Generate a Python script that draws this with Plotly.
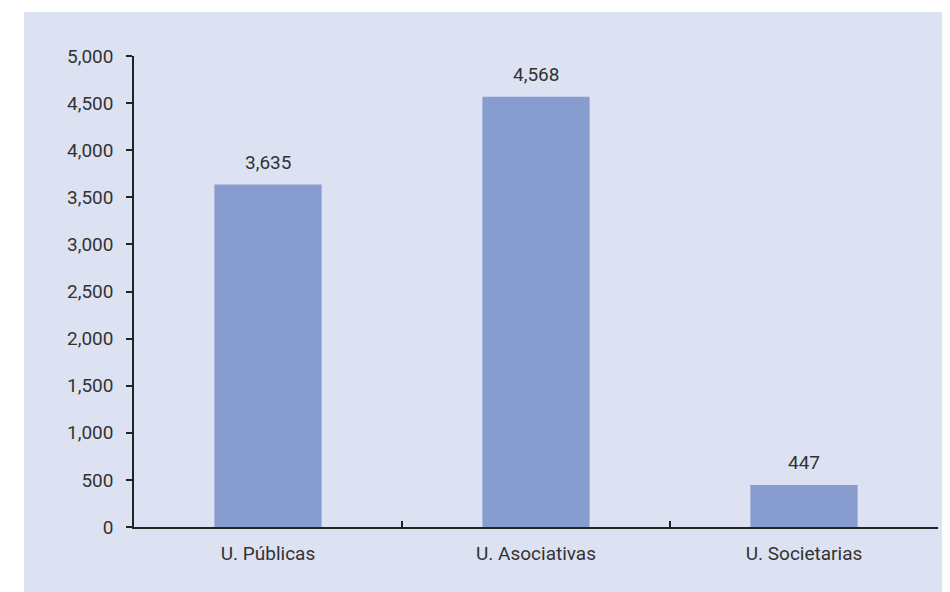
import plotly.graph_objects as go

categories = ["U. Públicas", "U. Asociativas", "U. Societarias"]
values = [3635, 4568, 447]
value_labels = ["3,635", "4,568", "447"]

BAR = "#879dcf"
BG = "#dde2f2"
FONT = "Roboto"
TXT = "#333333"
NUM_SIZE = 19
CAT_SIZE = 19

fig = go.Figure()
fig.add_trace(go.Bar(
    x=categories, y=values, marker=dict(color=BAR, line=dict(width=0)),
    width=0.4, hoverinfo="skip",
))

for c, v, lab in zip(categories, values, value_labels):
    fig.add_annotation(x=c, y=v, text=lab, showarrow=False, yanchor="bottom",
                       yshift=9, font=dict(family=FONT, size=NUM_SIZE, color=TXT))

W, H = 942, 584
L, R, T, B = 126, 12, 48, 65
pw = W - L - R
ph = H - T - B

# white strips above and left of the tinted panel
fig.add_shape(type="rect", xref="paper", yref="paper",
              x0=-L / pw - 0.02, x1=(16 - L) / pw,
              y0=-B / ph - 0.02, y1=(H - B) / ph + 0.02,
              fillcolor="white", line=dict(width=0), layer="below")
fig.add_shape(type="rect", xref="paper", yref="paper",
              x0=-L / pw - 0.02, x1=(W - L) / pw + 0.02,
              y0=(H - B - 4) / ph, y1=(H - B) / ph + 0.02,
              fillcolor="white", line=dict(width=0), layer="below")

fig.update_layout(
    width=W, height=H,
    margin=dict(l=L, r=R, t=T, b=B, pad=0),
    paper_bgcolor=BG, plot_bgcolor="rgba(0,0,0,0)",
    showlegend=False,
    font=dict(family=FONT, size=CAT_SIZE, color=TXT),
    xaxis=dict(type="category", showline=True, linecolor="#222222", linewidth=1.5,
               ticks="inside", tickson="boundaries", ticklen=6, tickcolor="#222222",
               tickwidth=1.5, showgrid=False, zeroline=False,
               ticklabelstandoff=8,
               tickfont=dict(family=FONT, size=CAT_SIZE, color=TXT)),
    yaxis=dict(range=[0, 5000], dtick=500, tickformat=",", showline=True,
               linecolor="#222222", linewidth=1.5, ticks="outside", ticklen=6,
               tickcolor="#222222", tickwidth=1.5, showgrid=False, zeroline=False,
               ticklabelstandoff=9,
               tickfont=dict(family=FONT, size=NUM_SIZE, color=TXT)),
    bargap=0.6,
)

fig.write_html("out.html")
